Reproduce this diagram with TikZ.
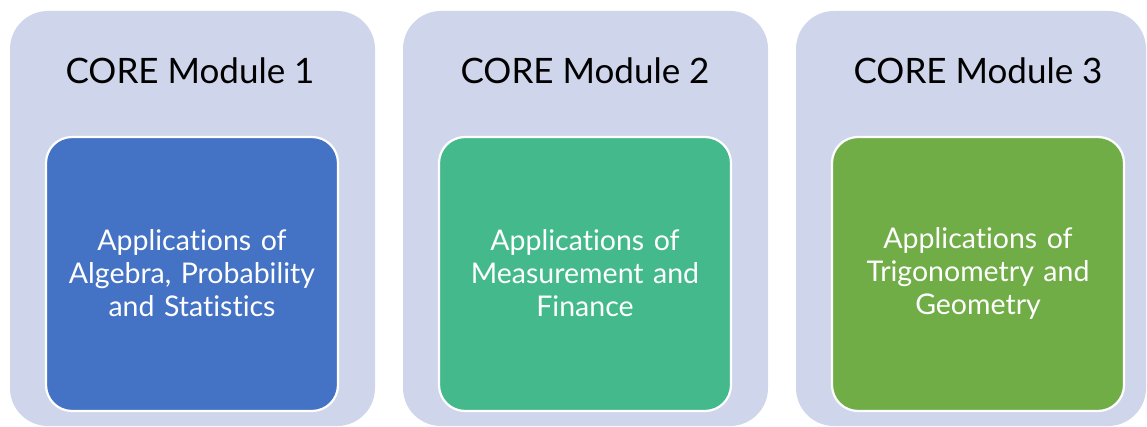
\documentclass[tikz,border=0pt]{standalone}
\usepackage{fontspec}
\setmainfont{Lato}[Ligatures={NoCommon}]
\definecolor{panelbg}{HTML}{CFD5EA}
\definecolor{algblue}{HTML}{4472C4}
\definecolor{measgreen}{HTML}{44BA8C}
\definecolor{triggreen}{HTML}{70AD47}
\begin{document}
\begin{tikzpicture}[x=1pt,y=-1pt,
  panel/.style={fill=panelbg, draw=none, rounded corners=38pt},
  topic/.style={draw=white, line width=2.2pt, rounded corners=26pt},
  paneltitle/.style={font=\fontsize{35}{38}\selectfont, text=black, inner sep=0pt, anchor=base},
  topictext/.style={font=\fontsize{28.5}{33}\selectfont, text=white, align=center, text width=280pt, inner sep=0pt}]
  \useasboundingbox (0,0) rectangle (1147,427);
  % outer panels
  \path[panel] (10,11) rectangle (375,426);
  \path[panel] (403,11) rectangle (768,426);
  \path[panel] (796,11) rectangle (1146,426);
  % coloured topic boxes
  \draw[topic, fill=algblue] (46,137) rectangle (338,411);
  \draw[topic, fill=measgreen] (439,137) rectangle (731,411);
  \draw[topic, fill=triggreen] (832,137) rectangle (1124,411);
  % panel titles
  \node[paneltitle] (t1) at (190,84) {CORE Module 1};
  \node[paneltitle] (t2) at (585,84) {CORE Module 2};
  \node[paneltitle] (t3) at (978,84) {CORE Module 3};
  % topic texts
  \node[topictext] (c1) at (192,273) {Applications of\\Algebra, Probability\\and Statistics};
  \node[topictext] (c2) at (585,273) {Applications of\\Measurement and\\Finance};
  \node[topictext] (c3) at (978,273) {Applications of\\Trigonometry and\\Geometry};
\end{tikzpicture}
\end{document}
